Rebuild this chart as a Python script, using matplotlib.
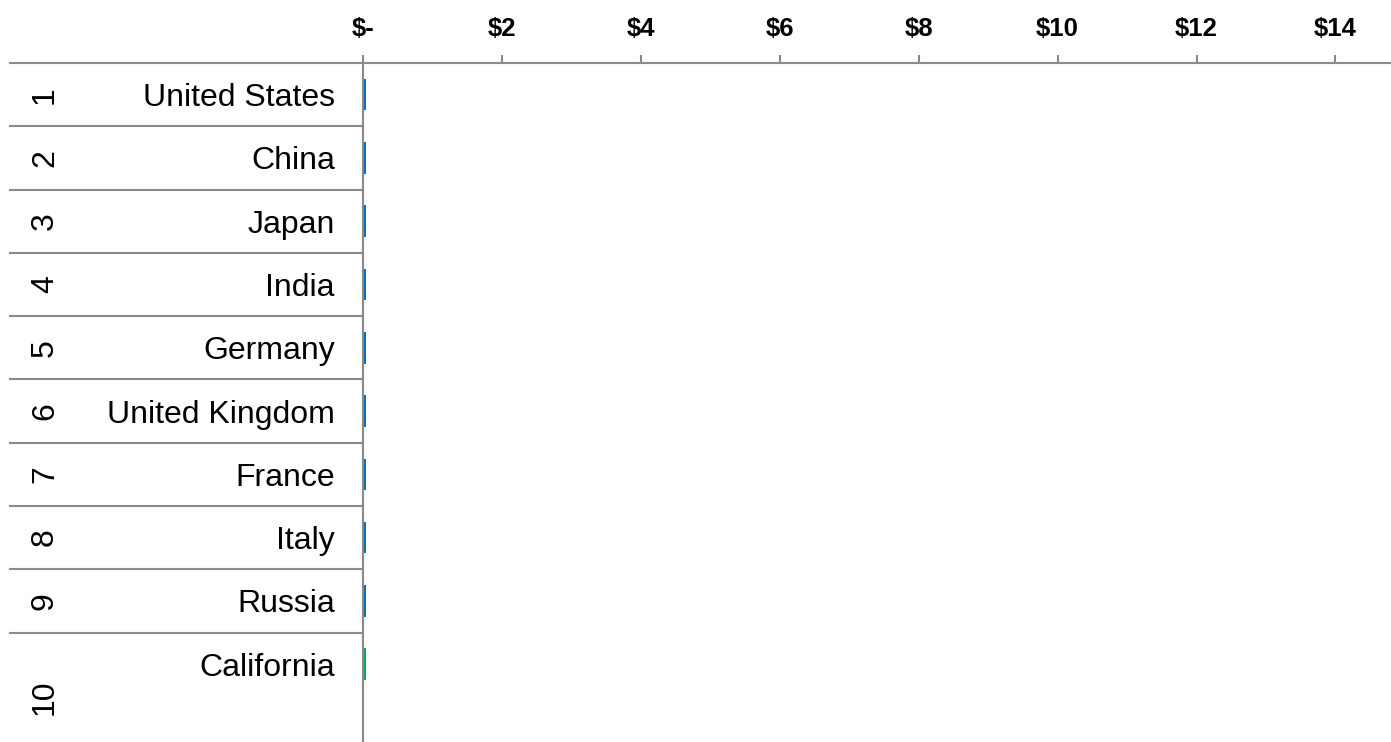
import matplotlib
matplotlib.use("Agg")
from matplotlib import pyplot as plt
from matplotlib.transforms import blended_transform_factory

plt.rcParams['font.family'] = ['Liberation Sans', 'DejaVu Sans']

ranks = ['1', '2', '3', '4', '5', '6', '7', '8', '9', '10']
names = ['United States', 'China', 'Japan', 'India', 'Germany',
         'United Kingdom', 'France', 'Italy', 'Russia', 'California']
values = [0.04, 0.04, 0.04, 0.04, 0.04, 0.04, 0.04, 0.04, 0.04, 0.04]
colors = ['#0070C0'] * 9 + ['#00B050']
xticks = [0, 2, 4, 6, 8, 10, 12, 14]
xlabels = ['$-', '$2', '$4', '$6', '$8', '$10', '$12', '$14']

W, H = 1391, 742
fig = plt.figure(figsize=(W / 100, H / 100), dpi=100)
ax = fig.add_axes([363 / W, 0, 1 - 363 / W, (H - 63) / H])

grey = '#8a8a8a'
ypos = list(range(len(names)))
ax.barh(ypos, values, height=0.5, color=colors)
ax.set_xlim(0, 14.8)
ax.set_ylim(10.23, -0.5)

ax.xaxis.tick_top()
ax.set_xticks(xticks)
ax.set_xticklabels(xlabels, fontsize=18.5, fontweight='bold')
ax.tick_params(axis='x', length=6, width=1.5, color=grey, pad=10)
ax.set_yticks([])
for s in ['right', 'bottom']:
    ax.spines[s].set_visible(False)
for s in ['top', 'left']:
    ax.spines[s].set_color(grey)
    ax.spines[s].set_linewidth(1.5)

tr = blended_transform_factory(fig.transFigure, ax.transData)
x0, x1 = 10 / W, 363 / W
for k in range(len(names)):
    yb = k - 0.5
    ax.plot([x0, x1], [yb, yb], color=grey, lw=1.5, transform=tr, clip_on=False)

for i, (r, n) in enumerate(zip(ranks, names)):
    ax.text(335 / W, i, n, transform=tr, ha='right', va='center_baseline',
            fontsize=23)
    ry = 9.52 if i == len(names) - 1 else i
    ax.text(45 / W, ry, r, transform=tr, ha='center', va='center',
            fontsize=23, rotation=90)

fig.savefig('out.png', dpi=100)
